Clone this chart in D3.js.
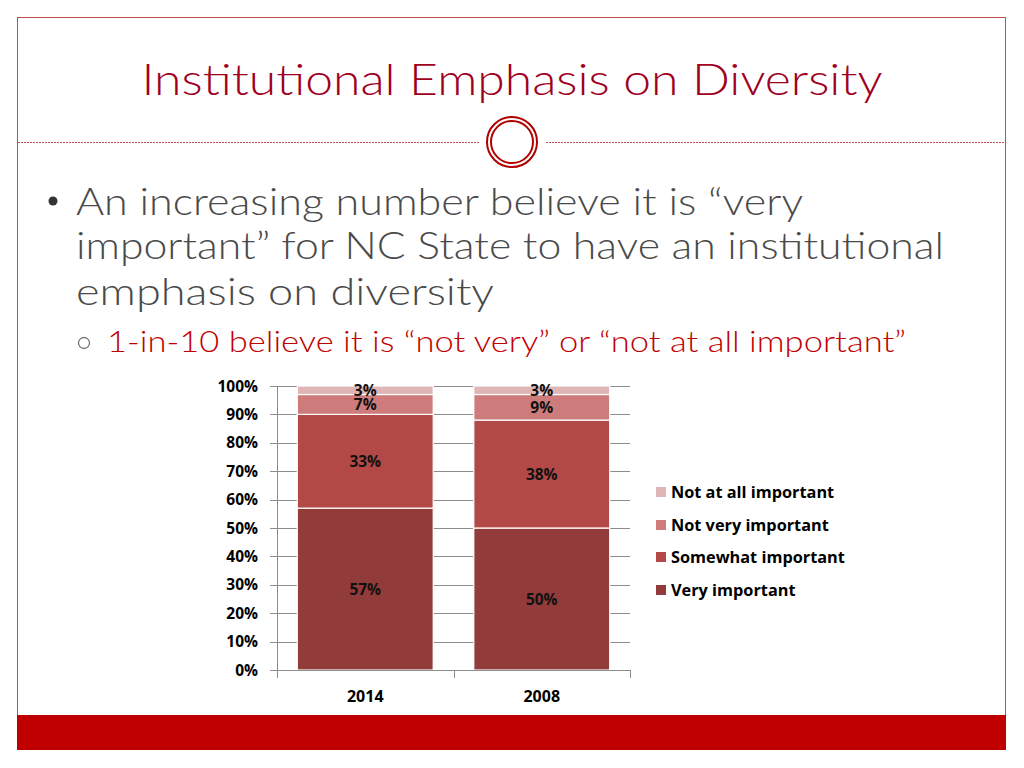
<!DOCTYPE html>
<html><head><meta charset="utf-8">
<script src="https://cdn.jsdelivr.net/npm/d3@7/dist/d3.min.js"></script>
<style>html,body{margin:0;padding:0;background:#fff;}svg{display:block;}</style>
</head><body>
<script>
const categories = ["2014", "2008"];
const seriesNames = ["Very important", "Somewhat important", "Not very important", "Not at all important"];
const veryImportant = [57, 50];
const somewhatImportant = [33, 38];
const notVeryImportant = [7, 9];
const notAtAllImportant = [3, 3];
const yTicks = [0, 10, 20, 30, 40, 50, 60, 70, 80, 90, 100];
const seriesColors = ["#913B3A", "#B24947", "#CD7C7B", "#DFB5B6"];

const W = 1024, H = 768;
const svg = d3.select("body").append("svg").attr("width", W).attr("height", H);

// slide frame
svg.append("rect").attr("x", 17.5).attr("y", 17.5).attr("width", 988).attr("height", 732)
  .attr("fill", "none").attr("stroke", "#C0504D").attr("stroke-width", 1);
svg.append("rect").attr("x", 17).attr("y", 715).attr("width", 989).attr("height", 35).attr("fill", "#C00000");

// dashed divider & circle
svg.append("line").attr("x1", 18).attr("x2", 479).attr("y1", 142.5).attr("y2", 142.5)
  .attr("stroke", "#C0504D").attr("stroke-width", 1.2).attr("stroke-dasharray", "2,1");
svg.append("line").attr("x1", 546).attr("x2", 1006).attr("y1", 142.5).attr("y2", 142.5)
  .attr("stroke", "#C0504D").attr("stroke-width", 1.2).attr("stroke-dasharray", "2,1");
svg.append("circle").attr("cx", 512).attr("cy", 142).attr("r", 25).attr("fill", "#fff").attr("stroke", "#B00000").attr("stroke-width", 2);
svg.append("circle").attr("cx", 512).attr("cy", 142).attr("r", 21).attr("fill", "none").attr("stroke", "#B00000").attr("stroke-width", 2);

// title
svg.append("text").attr("x", 512).attr("y", 95).attr("text-anchor", "middle")
  .attr("font-family", "Lato, 'Open Sans', sans-serif").attr("font-weight", 300)
  .attr("font-size", 44).attr("fill", "#A0001E")
  .attr("textLength", 741).attr("lengthAdjust", "spacingAndGlyphs")
  .text("Institutional Emphasis on Diversity");

// bullets
svg.append("circle").attr("cx", 53).attr("cy", 201).attr("r", 4.5).attr("fill", "#333");
const bulletLines = ["An increasing number believe it is \u201cvery", "important\u201d for NC State to have an institutional", "emphasis on diversity"];
const bl = [215, 259, 305];
const bw = [727, 868, 418];
bulletLines.forEach((t, i) => {
  svg.append("text").attr("x", 76).attr("y", bl[i]).attr("font-family", "Lato, 'Open Sans', sans-serif")
    .attr("font-weight", 300).attr("font-size", 37).attr("fill", "#4A4A4A")
    .attr("textLength", bw[i]).attr("lengthAdjust", "spacingAndGlyphs").text(t);
});
svg.append("circle").attr("cx", 84).attr("cy", 343).attr("r", 5.5).attr("fill", "none").attr("stroke", "#777").attr("stroke-width", 1.3);
svg.append("text").attr("x", 107).attr("y", 352).attr("font-family", "Lato, 'Open Sans', sans-serif")
  .attr("font-weight", 300).attr("font-size", 29).attr("fill", "#C00000").attr("textLength", 799).attr("lengthAdjust", "spacingAndGlyphs")
  .text("1-in-10 believe it is \u201cnot very\u201d or \u201cnot at all important\u201d");

// chart
const x0 = 277, x1 = 630, yb = 670, yt = 386;
const x = d3.scaleBand().domain(categories).range([x0, x1]).paddingInner(0.23).paddingOuter(0.115);
const y = d3.scaleLinear().domain([0, 100]).range([yb, yt]);
const g = svg.append("g");
const labFont = "'Open Sans', sans-serif";

// gridlines
g.selectAll("line.grid").data(yTicks).enter().append("line")
  .attr("x1", x0 - 7).attr("x2", x1).attr("y1", d => Math.round(y(d)) + 0.5).attr("y2", d => Math.round(y(d)) + 0.5)
  .attr("stroke", "#8C8C8C").attr("stroke-width", 1);
g.selectAll("text.yl").data(yTicks).enter().append("text")
  .attr("x", 258).attr("y", d => y(d) + 5.5).attr("text-anchor", "end")
  .attr("font-family", labFont).attr("font-weight", 700).attr("font-size", 15.5).attr("fill", "#000")
  .text(d => d + "%");

const stackData = categories.map((c, i) => ({
  cat: c,
  [seriesNames[0]]: veryImportant[i],
  [seriesNames[1]]: somewhatImportant[i],
  [seriesNames[2]]: notVeryImportant[i],
  [seriesNames[3]]: notAtAllImportant[i]
}));
const stack = d3.stack().keys(seriesNames)(stackData);
stack.forEach((layer, k) => {
  layer.forEach(d => {
    g.append("rect").attr("x", x(d.data.cat)).attr("width", x.bandwidth())
      .attr("y", y(d[1])).attr("height", y(d[0]) - y(d[1]))
      .attr("fill", seriesColors[k]).attr("stroke", "#fff").attr("stroke-width", 1.2);
  });
});
stack.forEach((layer, k) => {
  layer.forEach(d => {
    g.append("text").attr("x", x(d.data.cat) + x.bandwidth() / 2).attr("y", y((d[0] + d[1]) / 2) + 5.5)
      .attr("text-anchor", "middle").attr("font-family", labFont).attr("font-weight", 700)
      .attr("font-size", 15.5).attr("fill", "#111").text((d[1] - d[0]) + "%");
  });
});

// axes lines
g.append("line").attr("x1", x0 + 0.5).attr("x2", x0 + 0.5).attr("y1", yt).attr("y2", yb).attr("stroke", "#8C8C8C");
g.append("line").attr("x1", x0 - 7).attr("x2", x1).attr("y1", yb + 0.5).attr("y2", yb + 0.5).attr("stroke", "#8C8C8C");
const catEdges = [x0, (x0 + x1) / 2, x1];
catEdges.forEach(v => g.append("line").attr("x1", Math.round(v) + 0.5).attr("x2", Math.round(v) + 0.5)
  .attr("y1", yb).attr("y2", yb + 8).attr("stroke", "#8C8C8C"));
categories.forEach(c => g.append("text").attr("x", x(c) + x.bandwidth() / 2).attr("y", 702)
  .attr("text-anchor", "middle").attr("font-family", labFont).attr("font-weight", 700)
  .attr("font-size", 16).attr("fill", "#000").text(c));

// legend
const legY = [492, 525, 557, 590];
[3, 2, 1, 0].forEach((k, i) => {
  svg.append("rect").attr("x", 656).attr("y", legY[i] - 5).attr("width", 10).attr("height", 10).attr("fill", seriesColors[k]);
  svg.append("text").attr("x", 671).attr("y", legY[i] + 6).attr("font-family", labFont)
    .attr("font-weight", 700).attr("font-size", 16.3).attr("fill", "#000").text(seriesNames[k]);
});
</script>
</body></html>
